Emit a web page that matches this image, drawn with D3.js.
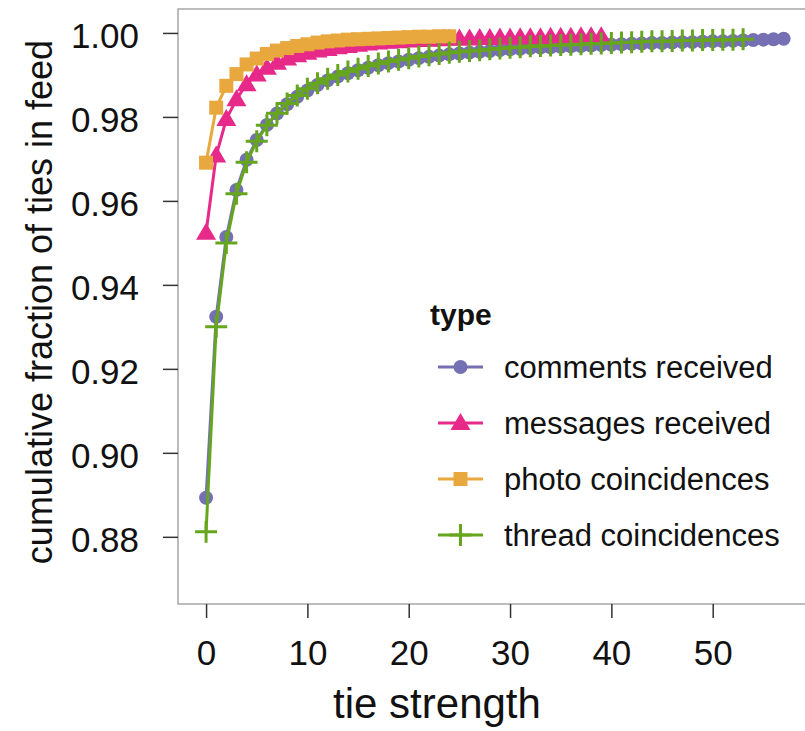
<!DOCTYPE html>
<html>
<head>
<meta charset="utf-8">
<script src="https://cdn.jsdelivr.net/npm/d3@7"></script>
<style>
  body { margin: 0; background: #fff; }
  svg { display: block; font-family: "Liberation Sans", Arial, Helvetica, sans-serif; }
</style>
</head>
<body>
<div id="chart"></div>
<script>
// cumulative fraction of ties in feed, one value per tie strength 0..n
const commentsReceived = [
  0.8893, 0.9324, 0.9514, 0.9626, 0.9698, 0.9745, 0.9781, 0.9808, 0.9830, 0.9848,
  0.9863, 0.9876, 0.9887, 0.9896, 0.9904, 0.9911, 0.9917, 0.9923, 0.9928, 0.9932,
  0.9936, 0.9940, 0.9943, 0.9946, 0.9949, 0.9951, 0.9953, 0.9955, 0.9957, 0.9959,
  0.9961, 0.9962, 0.9964, 0.9965, 0.9966, 0.9967, 0.9968, 0.9969, 0.9970, 0.9971,
  0.9972, 0.9973, 0.9974, 0.9975, 0.9976, 0.9976, 0.9977, 0.9978, 0.9978, 0.9979,
  0.9980, 0.9980, 0.9981, 0.9982, 0.9983, 0.9984, 0.9985, 0.9986
];
const messagesReceived = [
  0.9524, 0.9708, 0.9795, 0.9842, 0.9878, 0.9901, 0.9917, 0.9929, 0.9939, 0.9947,
  0.9953, 0.9958, 0.9962, 0.9966, 0.9969, 0.9972, 0.9975, 0.9977, 0.9979, 0.9980,
  0.9982, 0.9983, 0.9984, 0.9985, 0.9986, 0.9987, 0.9987, 0.9988, 0.9988, 0.9989,
  0.9989, 0.9990, 0.9990, 0.9990, 0.9991, 0.9991, 0.9991, 0.9992, 0.9992, 0.9992
];
const photoCoincidences = [
  0.9691, 0.9822, 0.9874, 0.9902, 0.9925, 0.9939, 0.9950, 0.9958, 0.9964, 0.9969,
  0.9973, 0.9977, 0.9980, 0.9982, 0.9984, 0.9985, 0.9986, 0.9987, 0.9988, 0.9989,
  0.9990, 0.9991, 0.9991, 0.9992, 0.9992
];
const threadCoincidences = [
  0.8812, 0.9300, 0.9500, 0.9617, 0.9692, 0.9742, 0.9780, 0.9809, 0.9832, 0.9851,
  0.9867, 0.9880, 0.9891, 0.9900, 0.9908, 0.9915, 0.9921, 0.9927, 0.9932, 0.9936,
  0.9940, 0.9944, 0.9947, 0.9950, 0.9953, 0.9955, 0.9957, 0.9959, 0.9961, 0.9963,
  0.9965, 0.9966, 0.9968, 0.9969, 0.9970, 0.9971, 0.9972, 0.9973, 0.9974, 0.9975,
  0.9976, 0.9977, 0.9978, 0.9979, 0.9980, 0.9980, 0.9981, 0.9982, 0.9982, 0.9983,
  0.9983, 0.9984, 0.9984, 0.9985
];

const typeNames = ["comments received", "messages received", "photo coincidences", "thread coincidences"];
const typeColors = ["#7570b3", "#e7298a", "#e9a83d", "#66a61e"];
const typeShapes = ["circle", "triangle", "square", "plus"];
const xTicks = [0, 10, 20, 30, 40, 50];
const yTicks = [0.88, 0.90, 0.92, 0.94, 0.96, 0.98, 1.00];

const series = [commentsReceived, messagesReceived, photoCoincidences, threadCoincidences]
  .map((vals, i) => ({
    name: typeNames[i],
    color: typeColors[i],
    shape: typeShapes[i],
    points: vals.map((v, k) => ({ x: k, y: v }))
  }));

const width = 805, height = 731;
const panel = { left: 178, top: 9, right: 812, bottom: 604 };

const svg = d3.select("#chart").append("svg")
  .attr("width", width)
  .attr("height", height);

const x = d3.scaleLinear()
  .domain([-2.77, 59.8])
  .range([panel.left, panel.right]);
const y = d3.scaleLinear()
  .domain([0.864, 1.0057])
  .range([panel.bottom, panel.top]);

// panel border
svg.append("rect")
  .attr("x", panel.left)
  .attr("y", panel.top)
  .attr("width", panel.right - panel.left)
  .attr("height", panel.bottom - panel.top)
  .attr("fill", "none")
  .attr("stroke", "#a6a6a6")
  .attr("stroke-width", 1.5);

// axes
const yAxis = svg.append("g")
  .attr("transform", `translate(${panel.left},0)`)
  .call(d3.axisLeft(y).tickValues(yTicks).tickFormat(d3.format(".2f")).tickSize(15).tickPadding(24));
const xAxis = svg.append("g")
  .attr("transform", `translate(0,${panel.bottom})`)
  .call(d3.axisBottom(x).tickValues(xTicks).tickFormat(d3.format("d")).tickSize(14).tickPadding(22));

[xAxis, yAxis].forEach(g => {
  g.select(".domain").remove();
  g.selectAll(".tick line").attr("stroke", "#333").attr("stroke-width", 1.5);
  g.selectAll(".tick text")
    .attr("fill", "#111")
    .style("font-size", "35px")
    .style("font-family", "'Liberation Sans', Arial, sans-serif");
});
yAxis.selectAll(".tick text").attr("dy", "0.42em");

svg.append("text")
  .attr("x", 437)
  .attr("y", 718)
  .attr("text-anchor", "middle")
  .attr("fill", "#111")
  .style("font-size", "42px")
  .text("tie strength");

svg.append("text")
  .attr("transform", "translate(52,302) rotate(-90)")
  .attr("text-anchor", "middle")
  .attr("fill", "#111")
  .style("font-size", "36px")
  .text("cumulative fraction of ties in feed");

// marker drawing
function drawMarker(sel, shape, color) {
  if (shape === "circle") {
    sel.append("circle").attr("r", 7).attr("fill", color);
  } else if (shape === "triangle") {
    sel.append("path").attr("d", "M0,-10L10,7L-10,7Z").attr("fill", color);
  } else if (shape === "square") {
    sel.append("rect").attr("x", -7).attr("y", -7).attr("width", 14).attr("height", 14).attr("fill", color);
  } else {
    sel.append("path").attr("d", "M-11,0H11M0,-11V11")
      .attr("stroke", color).attr("stroke-width", 3).attr("fill", "none");
  }
}

const line = d3.line().x(d => x(d.x)).y(d => y(d.y));

const plot = svg.append("g");
series.forEach(s => {
  const g = plot.append("g");
  g.selectAll(".pt")
    .data(s.points)
    .join("g")
    .attr("class", "pt")
    .attr("transform", d => `translate(${x(d.x)},${y(d.y)})`)
    .each(function () { drawMarker(d3.select(this), s.shape, s.color); });
  g.append("path")
    .datum(s.points)
    .attr("d", line)
    .attr("fill", "none")
    .attr("stroke", s.color)
    .attr("stroke-width", 3);
});

// legend
const legend = svg.append("g");
legend.append("text")
  .attr("x", 430)
  .attr("y", 325)
  .attr("fill", "#111")
  .style("font-size", "30px")
  .style("font-weight", "bold")
  .text("type");

const rowY = [367, 423, 479, 535];
const rows = legend.selectAll(".row")
  .data(series)
  .join("g")
  .attr("class", "row")
  .attr("transform", (d, i) => `translate(0,${rowY[i]})`);
rows.append("line")
  .attr("x1", 438).attr("x2", 483)
  .attr("stroke", d => d.color)
  .attr("stroke-width", 3);
rows.each(function (d) {
  const m = d3.select(this).append("g").attr("transform", "translate(460.5,0)");
  drawMarker(m, d.shape, d.color);
});
rows.append("text")
  .attr("x", 504)
  .attr("y", 11)
  .attr("fill", "#111")
  .style("font-size", "31px")
  .text(d => d.name);
</script>
</body>
</html>
